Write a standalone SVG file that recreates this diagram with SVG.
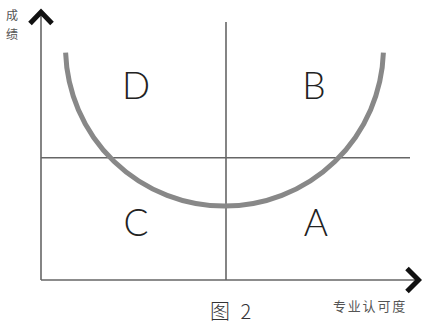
<svg xmlns="http://www.w3.org/2000/svg" width="422" height="327" viewBox="0 0 422 327">
<style>
.ax{stroke:#666;stroke-width:1.6;fill:none}
.arr{stroke:#111;stroke-width:5;fill:none;stroke-linejoin:miter;stroke-linecap:butt}
.q{font-family:Lato,"Open Sans","Liberation Sans",sans-serif;font-weight:300;font-size:37px;fill:#222;text-anchor:middle}
.cjk{font-family:"Noto Sans CJK SC",sans-serif;fill:#555}
</style>
<rect width="422" height="327" fill="#fff"/>
<g id="connectors">
<line class="ax" x1="41" y1="14" x2="41" y2="280"/>
<line class="ax" x1="41" y1="280" x2="416" y2="280"/>
<line class="ax" x1="226" y1="22" x2="226" y2="280"/>
<line class="ax" x1="41" y1="157.7" x2="410" y2="157.7"/>
<polyline class="arr" points="30,23.5 41,12 52,23.5"/>
<polyline class="arr" points="407,268.5 418.5,280 407,291.5"/>
<path d="M65.6 52.7 A159 159 0 0 0 383.4 52.7" fill="none" stroke="#888" stroke-width="5"/>
</g>
<g id="D"><text class="q" x="136" y="99">D</text></g>
<g id="B"><text class="q" x="314" y="99">B</text></g>
<g id="C"><text class="q" x="136" y="235.5">C</text></g>
<g id="A"><text class="q" x="316" y="235.5">A</text></g>
<g id="ylabel">
<text class="cjk" x="12" y="20" font-size="12" text-anchor="middle">成</text>
<text class="cjk" x="12" y="39" font-size="12" text-anchor="middle">绩</text>
</g>
<g id="xlabel"><text class="cjk" x="333" y="311" font-size="13" letter-spacing="1.8">专业认可度</text></g>
<g id="caption"><text x="210" y="319" font-size="20" fill="#333" font-family="'Noto Sans CJK SC',sans-serif" font-weight="300" letter-spacing="3">图 2</text></g>
</svg>
